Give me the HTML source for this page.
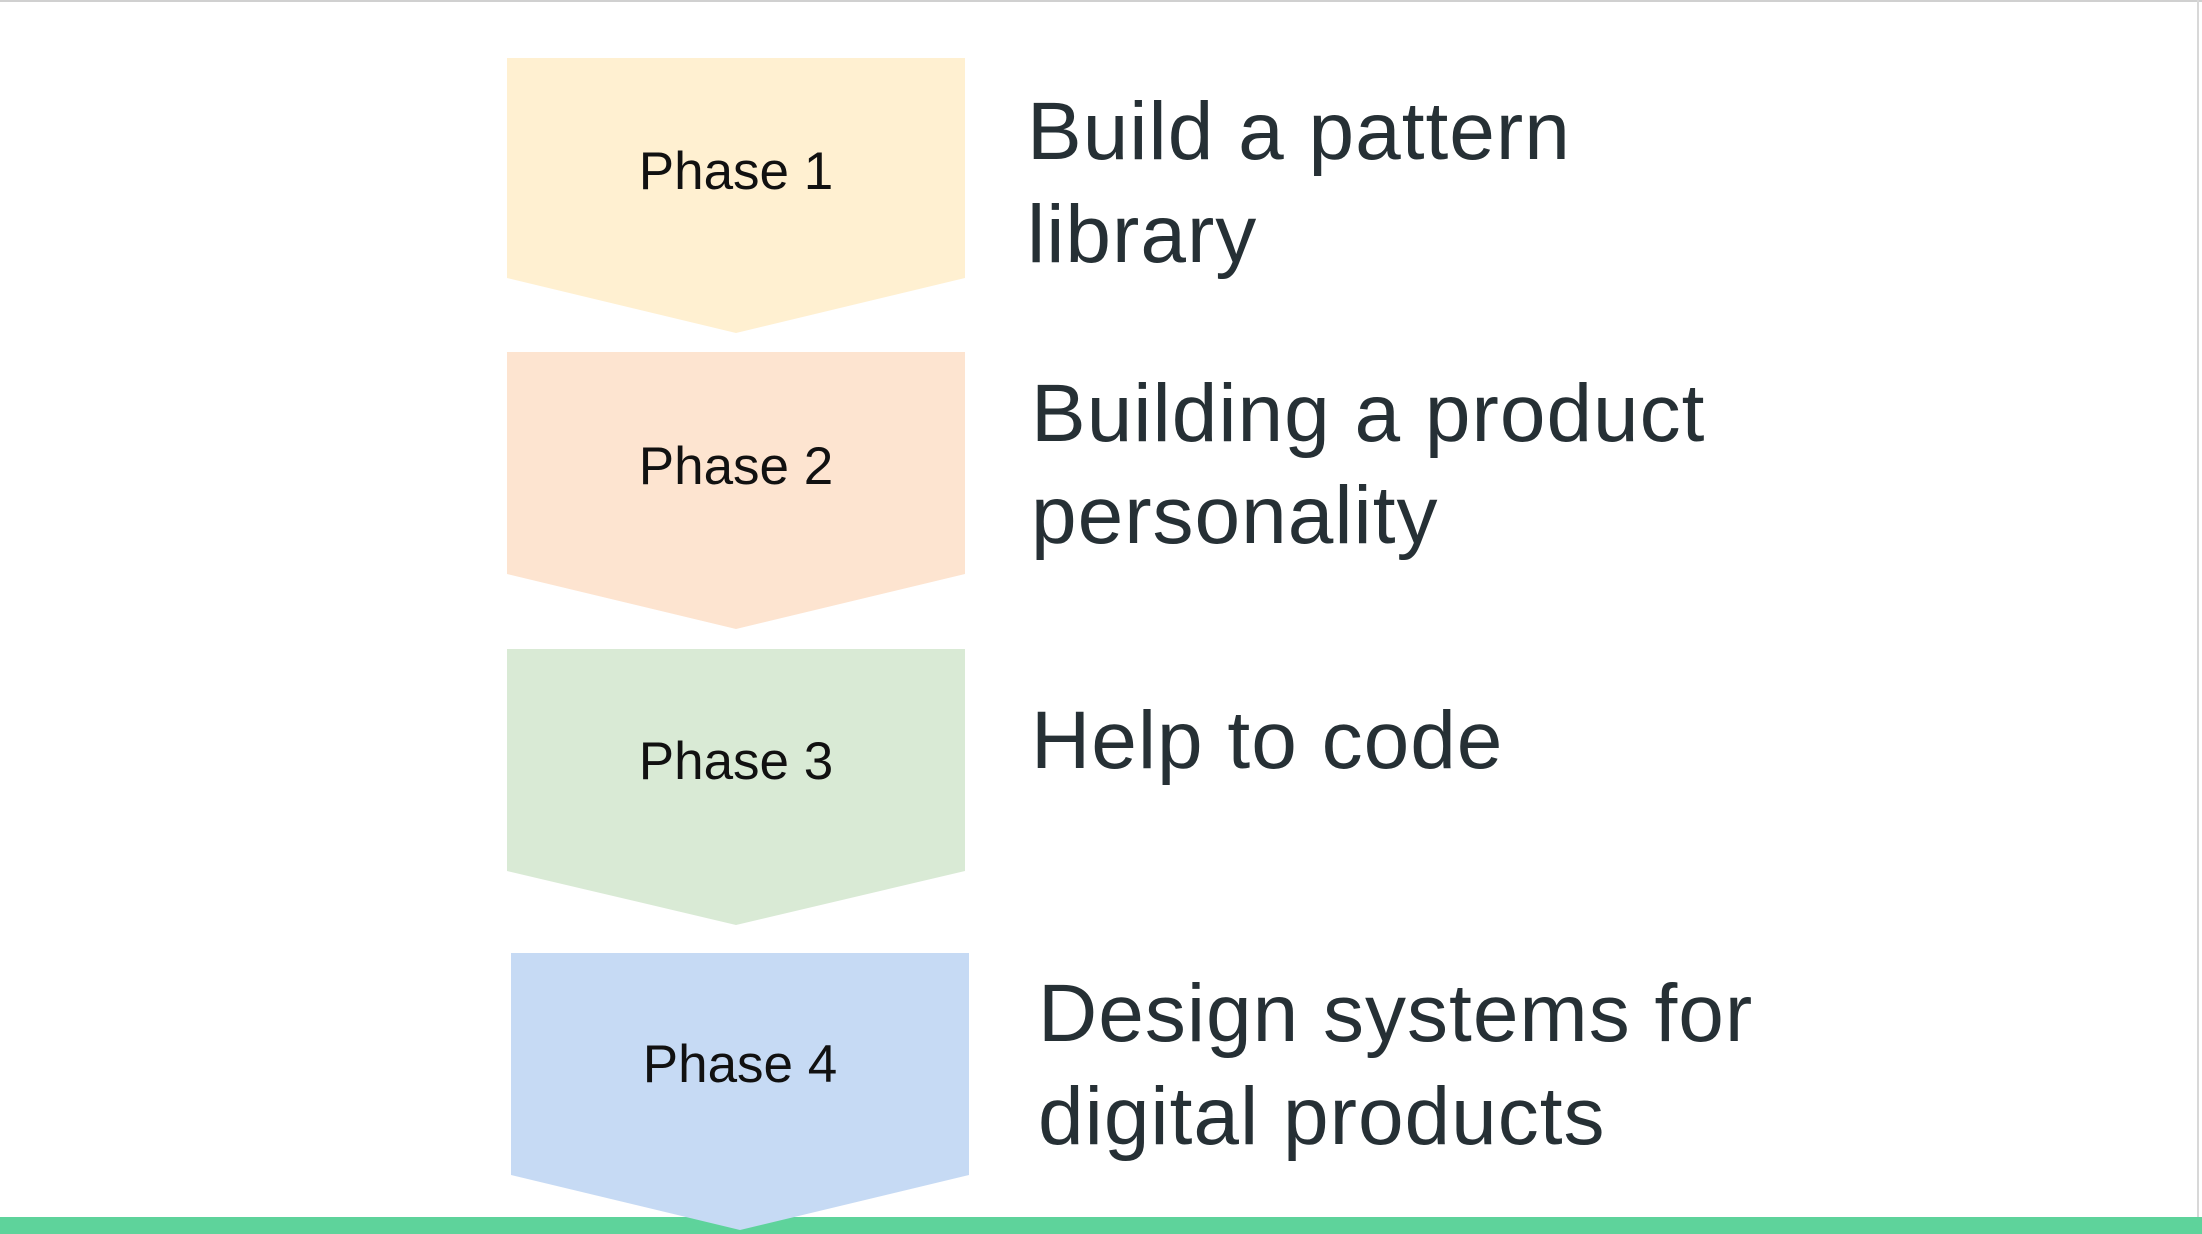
<!DOCTYPE html>
<html><head><meta charset="utf-8"><style>
html,body{margin:0;padding:0;background:#fff;}
svg{display:block;}
</style></head><body>
<svg width="2202" height="1234" viewBox="0 0 2202 1234" xmlns="http://www.w3.org/2000/svg">
<rect x="0" y="0" width="2202" height="1234" fill="#fff"/>
<rect x="0" y="0" width="2202" height="2" fill="#d0d0d0"/>
<rect x="2197" y="0" width="2" height="1234" fill="#d8d8d8"/>
<polygon points="507,58 965,58 965,278 736,333 507,278" fill="#fff0d1"/>
<polygon points="507,352 965,352 965,574 736,629 507,574" fill="#fde4d0"/>
<polygon points="507,649 965,649 965,871 736,925 507,871" fill="#d9ead5"/>
<rect x="0" y="1217" width="2202" height="17" fill="#5ed39b"/>
<polygon points="511,953 969,953 969,1175 740,1230 511,1175" fill="#c6daf4"/>
<g font-family="Liberation Sans, Arial, sans-serif" font-size="53" fill="#111" text-anchor="middle">
<text x="736" y="189">Phase 1</text>
<text x="736" y="484">Phase 2</text>
<text x="736" y="779">Phase 3</text>
<text x="740" y="1082">Phase 4</text>
</g>
<g font-family="Liberation Sans, Arial, sans-serif" font-size="82" fill="#263035" letter-spacing="1">
<text x="1027" y="159">Build a pattern</text>
<text x="1027" y="262">library</text>
<text x="1031" y="441">Building a product</text>
<text x="1031" y="543">personality</text>
<text x="1031" y="768">Help to code</text>
<text x="1038" y="1041">Design systems for</text>
<text x="1038" y="1144">digital products</text>
</g>
</svg>
</body></html>
